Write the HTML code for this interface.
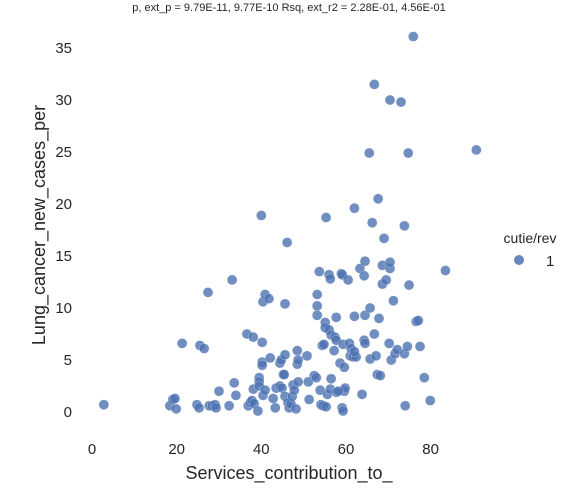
<!DOCTYPE html>
<html><head><meta charset="utf-8"><style>
body{margin:0;background:#fff;}
svg{display:block;font-family:"Liberation Sans",sans-serif;}
</style></head><body>
<svg id="chart" width="574" height="500">
<text x="289" y="11" text-anchor="middle" font-size="11" fill="#262626">p, ext_p = 9.79E-11, 9.77E-10 Rsq, ext_r2 = 2.28E-01, 4.56E-01</text>
<text x="289" y="479" text-anchor="middle" font-size="18" fill="#262626">Services_contribution_to_</text>
<text transform="translate(45,225) rotate(-90)" text-anchor="middle" font-size="18" fill="#262626">Lung_cancer_new_cases_per</text>
<g id="xt"></g><g id="yt"></g><g id="pts"></g>
<g>
<text x="530" y="243" text-anchor="middle" font-size="14" fill="#262626">cutie/rev</text>
<circle cx="519" cy="260" r="5" fill="#4c72b0" fill-opacity="0.85"></circle>
<text x="546" y="266" font-size="15" fill="#262626">1</text>
</g>
</svg>
<script>
const xTicks=[0,20,40,60,80];
const yTicks=[0,5,10,15,20,25,30,35];
const xs=[2.8,18.4,19.1,19.9,19.6,21.3,24.8,25.3,25.5,26.5,27.4,27.7,28.4,29.1,29.3,30.0,32.4,33.1,33.6,34.0,36.6,38.1,36.9,37.4,37.8,38.3,38.1,39.2,39.5,39.5,39.5,40.0,40.2,40.2,40.2,40.4,40.9,41.8,40.4,40.9,42.1,42.8,43.3,43.5,44.4,44.4,44.7,45.2,45.4,44.9,45.6,46.1,45.6,45.6,46.3,46.6,47.0,47.3,47.5,47.8,48.2,48.5,48.5,48.7,48.7,50.8,51.1,51.3,52.5,53.0,53.2,53.2,53.2,53.7,53.9,54.1,54.6,54.4,54.8,55.1,55.1,55.3,55.6,55.3,56.0,56.3,56.0,56.5,56.3,56.5,57.2,57.4,57.7,57.7,58.9,59.1,58.6,59.1,59.3,59.6,59.8,59.3,59.6,60.5,60.8,61.0,61.2,61.7,62.4,62.0,62.0,62.0,63.3,63.8,64.3,64.5,64.5,64.3,64.5,65.5,65.7,65.7,66.2,66.7,66.7,67.1,67.4,68.1,67.6,67.8,68.6,68.6,69.0,69.5,70.2,70.4,70.4,70.4,70.7,71.2,71.6,72.1,73.0,73.8,73.8,74.0,74.5,74.7,74.9,75.9,76.6,77.1,77.5,78.5,79.9,83.5,90.8,57.7,58.2];
const ys=[0.7,0.6,1.2,0.3,1.3,6.6,0.7,0.4,6.4,6.1,11.5,0.6,0.6,0.7,0.4,2.0,0.6,12.7,2.8,1.6,7.5,7.2,0.6,0.9,1.1,0.8,2.2,0.1,3.3,2.9,2.5,18.9,6.7,4.8,4.5,10.6,11.3,10.9,1.6,2.1,5.2,1.3,0.4,2.3,2.5,4.7,5.0,3.6,3.6,2.3,10.4,16.3,5.5,1.5,0.9,0.4,0.8,1.5,2.6,2.1,0.3,5.9,4.6,2.9,5.0,5.4,2.9,1.2,3.5,3.3,11.3,10.2,9.3,13.5,2.1,0.7,0.6,6.4,6.5,8.6,8.1,18.7,1.7,0.5,13.2,12.8,7.9,7.4,2.2,3.2,5.9,7.2,9.1,6.9,13.3,13.2,4.7,0.4,0.1,2.0,2.3,6.5,4.3,12.7,6.6,5.4,6.1,5.3,5.3,9.2,19.6,5.8,13.8,1.7,6.9,6.6,14.5,13.1,9.3,24.9,10.0,5.1,18.2,31.5,7.5,5.4,3.6,3.5,20.5,9.0,14.1,12.3,16.7,12.7,6.6,30.0,13.8,14.4,5.0,10.7,5.6,6.0,29.8,17.9,5.6,0.6,6.3,24.9,12.2,36.1,8.7,8.8,6.3,3.3,1.1,13.6,25.2,1.9,2.0];
const NS="http://www.w3.org/2000/svg";
function sx(v){return 92+v*4.233;}
function sy(v){return 412-v*10.4;}
const xt=document.getElementById('xt'),yt=document.getElementById('yt'),pts=document.getElementById('pts');
xTicks.forEach(t=>{const e=document.createElementNS(NS,'text');e.setAttribute('x',sx(t));e.setAttribute('y',454);e.setAttribute('text-anchor','middle');e.setAttribute('font-size','15');e.setAttribute('fill','#262626');e.textContent=t;


xt.appendChild(e);});
yTicks.forEach(t=>{const e=document.createElementNS(NS,'text');e.setAttribute('x',72);e.setAttribute('y',sy(t)+5);e.setAttribute('text-anchor','end');e.setAttribute('font-size','15');e.setAttribute('fill','#262626');e.textContent=t;


yt.appendChild(e);});
xs.forEach((x,i)=>{const c=document.createElementNS(NS,'circle');c.setAttribute('cx',sx(x));c.setAttribute('cy',sy(ys[i]));c.setAttribute('r',5);c.setAttribute('fill','#4c72b0');c.setAttribute('fill-opacity','0.8');c.setAttribute('stroke','#fff');c.setAttribute('stroke-opacity','0.5');c.setAttribute('stroke-width','0.5');


pts.appendChild(c);});
</script>
</body></html>
